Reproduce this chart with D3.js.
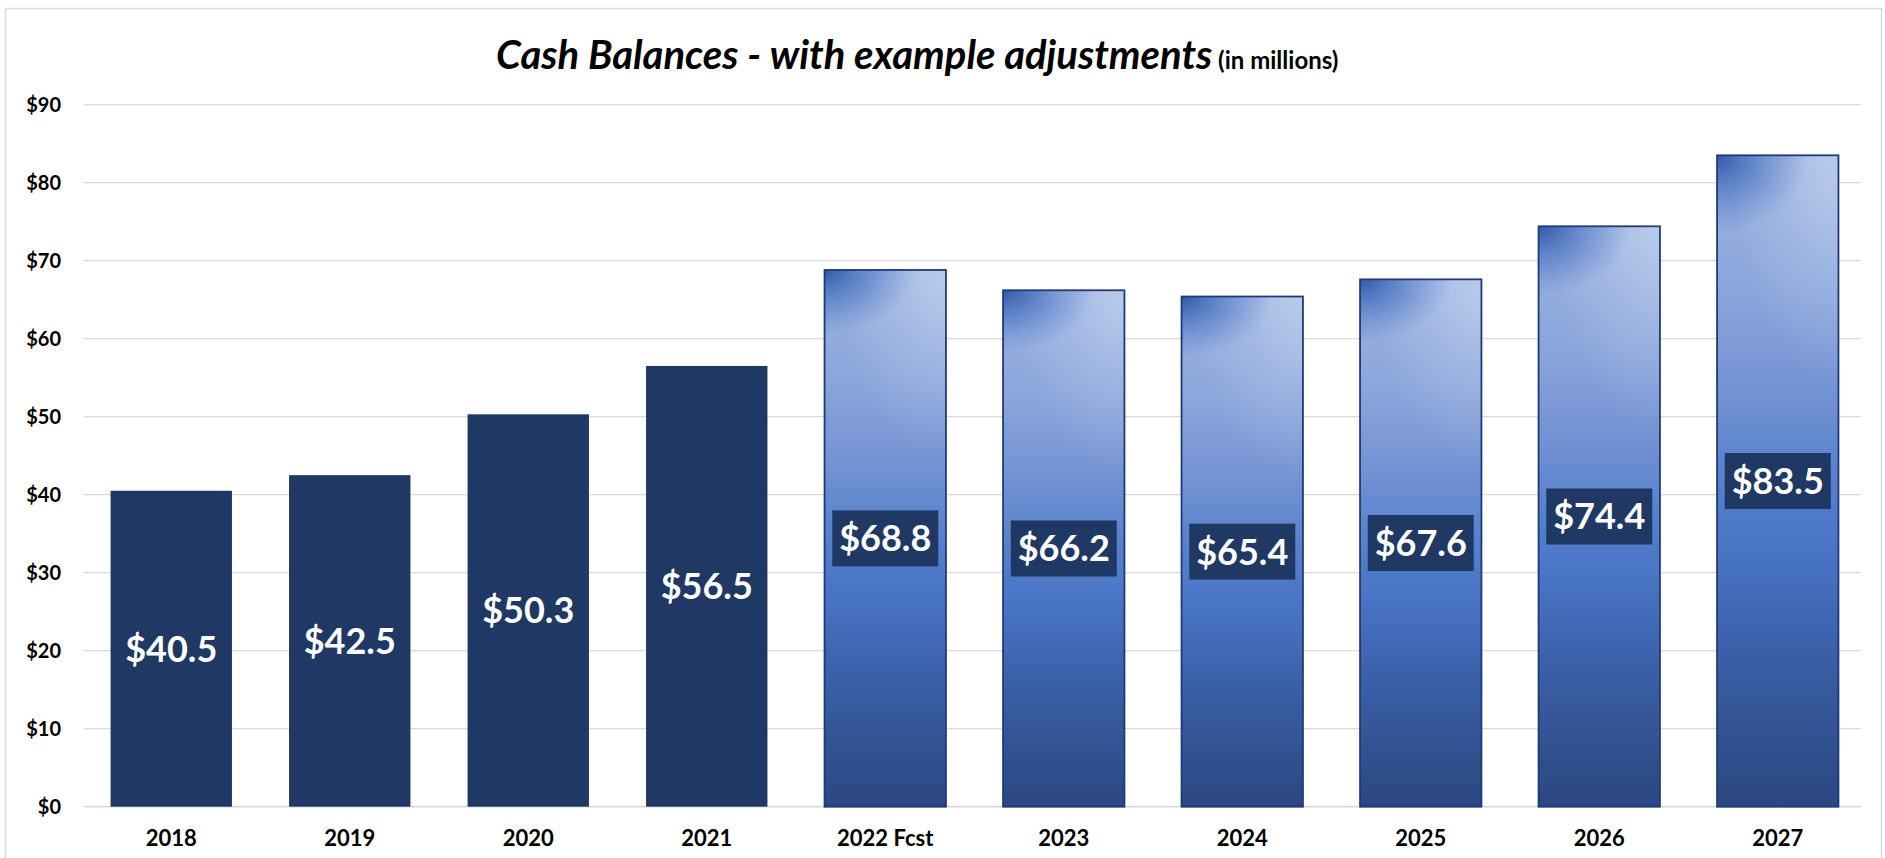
<!DOCTYPE html>
<html>
<head>
<meta charset="utf-8">
<script src="https://cdn.jsdelivr.net/npm/d3@7/dist/d3.min.js"></script>
<style>
  html, body { margin: 0; padding: 0; background: #fff; }
  svg { display: block; }
  text { font-family: Lato, "Open Sans", "Liberation Sans", sans-serif; }
</style>
</head>
<body>
<svg id="chart" width="1885" height="858"></svg>
<script>
// ---- data ----
const categories = ["2018", "2019", "2020", "2021", "2022 Fcst", "2023", "2024", "2025", "2026", "2027"];
const values = [40.5, 42.5, 50.3, 56.5, 68.8, 66.2, 65.4, 67.6, 74.4, 83.5];
const isForecast = [false, false, false, false, true, true, true, true, true, true];
const yTicks = [0, 10, 20, 30, 40, 50, 60, 70, 80, 90];
const titleMain = "Cash Balances - with example adjustments";
const titleSub = " (in millions)";

// ---- layout ----
const svg = d3.select("#chart");
const W = 1885, H = 858;
const plot = { left: 82, right: 1867, top: 104.6, bottom: 806.7 };

const x = d3.scaleBand().domain(categories).range([plot.left, plot.right])
  .paddingInner(0.32).paddingOuter(0.16);
const y = d3.scaleLinear().domain([0, 90]).range([plot.bottom, plot.top]);

// outer border
svg.append("rect").attr("x", 5.5).attr("y", 8.5).attr("width", W - 9).attr("height", H + 10)
  .attr("fill", "none").attr("stroke", "#d9d9d9").attr("stroke-width", 1.5);

// defs: gradients
const defs = svg.append("defs");
const base = defs.append("linearGradient").attr("id", "gBase")
  .attr("x1", 0).attr("y1", 0).attr("x2", 0).attr("y2", 1);
[[0, "#9fb5e1"], [0.2, "#8aa6db"], [0.35, "#7694d3"], [0.5, "#5580cc"], [0.6, "#4a75c6"],
 [0.75, "#3c61aa"], [0.9, "#31528f"], [1, "#2b4783"]]
  .forEach(([o, c]) => base.append("stop").attr("offset", o).attr("stop-color", c));

const hi = defs.append("radialGradient").attr("id", "gHi")
  .attr("cx", 0).attr("cy", 0).attr("r", 1).attr("fx", 0).attr("fy", 0)
  .attr("gradientTransform", "translate(1,0) scale(0.9,0.35)");
hi.append("stop").attr("offset", 0).attr("stop-color", "#bccdec").attr("stop-opacity", 0.9);
hi.append("stop").attr("offset", 0.5).attr("stop-color", "#bccdec").attr("stop-opacity", 0.35);
hi.append("stop").attr("offset", 1).attr("stop-color", "#bccdec").attr("stop-opacity", 0);

const dk = defs.append("radialGradient").attr("id", "gDark")
  .attr("cx", 0).attr("cy", 0).attr("r", 1).attr("fx", 0).attr("fy", 0)
  .attr("gradientTransform", "scale(0.75,0.12)");
dk.append("stop").attr("offset", 0).attr("stop-color", "#2c55a3").attr("stop-opacity", 0.95);
dk.append("stop").attr("offset", 0.45).attr("stop-color", "#416cbf").attr("stop-opacity", 0.6);
dk.append("stop").attr("offset", 1).attr("stop-color", "#4a76c8").attr("stop-opacity", 0);

// gridlines
svg.append("g").selectAll("line").data(yTicks).join("line")
  .attr("x1", 84).attr("x2", 1861)
  .attr("y1", d => y(d)).attr("y2", d => y(d))
  .attr("stroke", "#d9d9d9").attr("stroke-width", d => d === 0 ? 1.8 : 1.3);

// y axis labels
svg.append("g").selectAll("text").data(yTicks).join("text")
  .attr("x", 61).attr("y", d => y(d)).attr("dy", "0.36em")
  .attr("text-anchor", "end").attr("font-size", 20).attr("font-weight", 700).attr("fill", "#000")
  .text(d => "$" + d);

// bars
const data = categories.map((c, i) => ({ c, v: values[i], f: isForecast[i] }));
const bars = svg.append("g");
data.forEach(d => {
  const bx = x(d.c), bw = x.bandwidth(), by = y(d.v), bh = y(0) - y(d.v);
  if (!d.f) {
    bars.append("rect").attr("x", bx).attr("y", by).attr("width", bw).attr("height", bh)
      .attr("fill", "#203864");
  } else {
    bars.append("rect").attr("x", bx).attr("y", by).attr("width", bw).attr("height", bh)
      .attr("fill", "url(#gBase)");
    bars.append("rect").attr("x", bx).attr("y", by).attr("width", bw).attr("height", bh)
      .attr("fill", "url(#gHi)");
    bars.append("rect").attr("x", bx).attr("y", by).attr("width", bw).attr("height", bh)
      .attr("fill", "url(#gDark)");
    bars.append("rect").attr("x", bx).attr("y", by).attr("width", bw).attr("height", bh)
      .attr("fill", "none").attr("stroke", "#1f3a78").attr("stroke-width", 1.8);
  }
});

// value labels
const labels = svg.append("g");
data.forEach(d => {
  const cx = x(d.c) + x.bandwidth() / 2;
  const cy = y(d.v / 2);
  if (d.f) {
    labels.append("rect").attr("x", cx - 53).attr("y", cy - 28).attr("width", 106).attr("height", 56)
      .attr("fill", "#203864");
  }
  labels.append("text").attr("x", cx).attr("y", cy).attr("dy", "0.36em")
    .attr("text-anchor", "middle").attr("font-size", 36).attr("font-weight", 700).attr("fill", "#fff")
    .text("$" + d.v.toFixed(1));
});

// x axis labels
svg.append("g").selectAll("text").data(categories).join("text")
  .attr("x", d => x(d) + x.bandwidth() / 2).attr("y", 846)
  .attr("text-anchor", "middle").attr("font-size", 22).attr("font-weight", 700).attr("fill", "#000")
  .text(d => d);

// title
const t = svg.append("text").attr("x", 496).attr("y", 69).attr("fill", "#000");
t.append("tspan").attr("font-size", 40).attr("font-weight", 700).attr("font-style", "italic").text(titleMain);
t.append("tspan").attr("font-size", 24).attr("font-weight", 700).text(titleSub);
</script>
</body>
</html>
